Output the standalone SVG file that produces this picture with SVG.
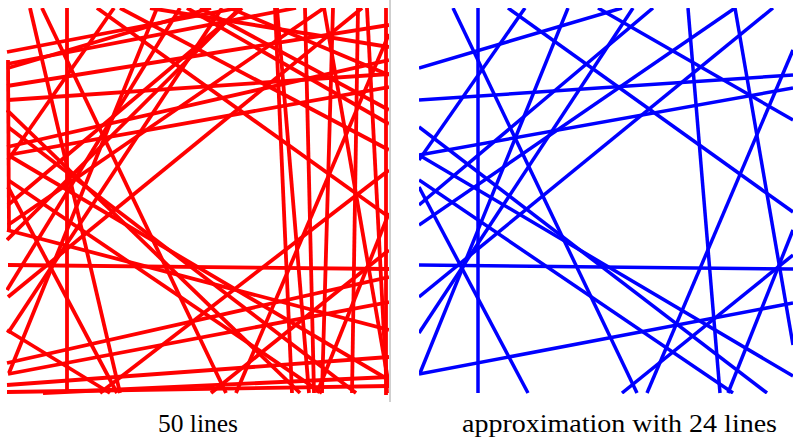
<svg xmlns="http://www.w3.org/2000/svg" width="793" height="442" viewBox="0 0 793 442">
<style>
.r line{stroke:#ff0000;stroke-width:3.8;stroke-linecap:butt}
.b line{stroke:#0000ff;stroke-width:3.5;stroke-linecap:butt}
.cap{font-family:"Liberation Serif","DejaVu Serif",serif;font-size:25px;fill:#000}
</style>
<defs>
<clipPath id="cr"><rect x="6" y="8" width="383" height="387"/></clipPath>
<clipPath id="cb"><rect x="419" y="8" width="374" height="386"/></clipPath>
</defs>
<rect width="793" height="442" fill="#fff"/>
<g id="red-panel" class="r" clip-path="url(#cr)">
<line x1="42" y1="8" x2="226" y2="393"/>
<line x1="67" y1="8" x2="67" y2="393"/>
<line x1="97" y1="8" x2="389" y2="217"/>
<line x1="8" y1="265" x2="389" y2="269"/>
<line x1="8" y1="68" x2="211" y2="8"/>
<line x1="8" y1="100" x2="389" y2="74"/>
<line x1="277" y1="8" x2="309" y2="393"/>
<line x1="324" y1="8" x2="389" y2="386"/>
<line x1="8" y1="374" x2="389" y2="302"/>
<line x1="157" y1="8" x2="9" y2="373"/>
<line x1="8" y1="187" x2="117" y2="393"/>
<line x1="8" y1="127" x2="356" y2="393"/>
<line x1="389" y1="34" x2="236" y2="393"/>
<line x1="211" y1="393" x2="389" y2="250"/>
<line x1="317" y1="393" x2="389" y2="213"/>
<line x1="8" y1="155" x2="389" y2="87"/>
<line x1="324" y1="8" x2="8" y2="225"/>
<line x1="362" y1="8" x2="8" y2="297"/>
<line x1="187" y1="8" x2="389" y2="124"/>
<line x1="222" y1="8" x2="8" y2="333"/>
<line x1="114" y1="8" x2="8" y2="160"/>
<line x1="8" y1="155" x2="389" y2="380"/>
<line x1="8" y1="180" x2="322" y2="393"/>
<line x1="242" y1="8" x2="8" y2="205"/>
<line x1="7" y1="52" x2="238" y2="8"/>
<line x1="7" y1="64" x2="296" y2="8"/>
<line x1="7" y1="86" x2="389" y2="25"/>
<line x1="120" y1="8" x2="389" y2="150"/>
<line x1="150" y1="8" x2="389" y2="47"/>
<line x1="200" y1="8" x2="389" y2="110"/>
<line x1="275" y1="8" x2="292" y2="393"/>
<line x1="305" y1="8" x2="314" y2="393"/>
<line x1="333" y1="8" x2="322" y2="393"/>
<line x1="358" y1="8" x2="352" y2="393"/>
<line x1="367" y1="8" x2="387" y2="393"/>
<line x1="386" y1="8" x2="386" y2="395"/>
<line x1="7" y1="363" x2="389" y2="277"/>
<line x1="7" y1="385" x2="389" y2="357"/>
<line x1="43" y1="393" x2="389" y2="377"/>
<line x1="7" y1="392" x2="389" y2="386"/>
<line x1="8" y1="60" x2="9" y2="230"/>
<line x1="230" y1="8" x2="389" y2="75"/>
<line x1="7" y1="147" x2="389" y2="60"/>
<line x1="7" y1="240" x2="240" y2="8"/>
<line x1="7" y1="290" x2="180" y2="8"/>
<line x1="7" y1="110" x2="300" y2="393"/>
<line x1="30" y1="8" x2="120" y2="393"/>
<line x1="7" y1="330" x2="110" y2="393"/>
<line x1="7" y1="230" x2="389" y2="330"/>
<line x1="100" y1="393" x2="389" y2="170"/>
</g>
<g id="blue-panel" class="b" clip-path="url(#cb)">
<line x1="453" y1="8" x2="637" y2="393"/>
<line x1="478" y1="8" x2="478" y2="393"/>
<line x1="508" y1="8" x2="793" y2="212"/>
<line x1="419" y1="265" x2="793" y2="269"/>
<line x1="419" y1="68" x2="622" y2="8"/>
<line x1="419" y1="100" x2="793" y2="75"/>
<line x1="688" y1="8" x2="720" y2="393"/>
<line x1="735" y1="8" x2="793" y2="345"/>
<line x1="419" y1="374" x2="793" y2="303"/>
<line x1="568" y1="8" x2="420" y2="373"/>
<line x1="419" y1="187" x2="528" y2="393"/>
<line x1="419" y1="127" x2="767" y2="393"/>
<line x1="793" y1="50" x2="647" y2="393"/>
<line x1="622" y1="393" x2="793" y2="255"/>
<line x1="728" y1="393" x2="793" y2="230"/>
<line x1="419" y1="155" x2="793" y2="88"/>
<line x1="735" y1="8" x2="419" y2="225"/>
<line x1="773" y1="8" x2="419" y2="297"/>
<line x1="598" y1="8" x2="793" y2="120"/>
<line x1="633" y1="8" x2="419" y2="333"/>
<line x1="525" y1="8" x2="419" y2="160"/>
<line x1="419" y1="155" x2="793" y2="376"/>
<line x1="419" y1="180" x2="733" y2="393"/>
<line x1="653" y1="8" x2="419" y2="205"/>
</g>
<line id="separator" x1="390" y1="0" x2="390" y2="402" stroke="#a0a0a0" stroke-width="1"/>
<text id="label-left" class="cap" x="158" y="432" textLength="80" lengthAdjust="spacingAndGlyphs">50 lines</text>
<text id="label-right" class="cap" x="462" y="432" textLength="315" lengthAdjust="spacingAndGlyphs">approximation with 24 lines</text>
</svg>
